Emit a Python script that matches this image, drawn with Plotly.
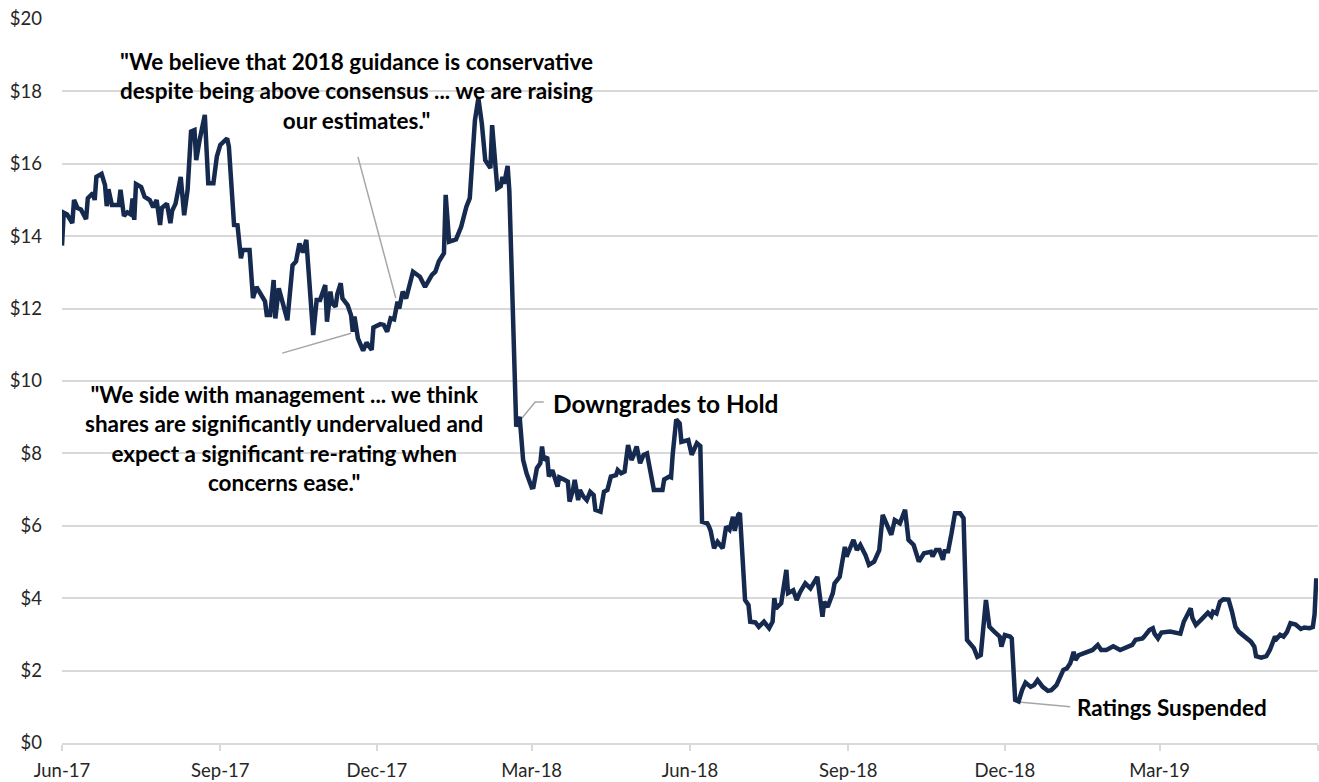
import plotly.graph_objects as go

dates = [
    "2017-06-01", "2017-06-02", "2017-06-04", "2017-06-07", "2017-06-08", "2017-06-10", "2017-06-12",
    "2017-06-15", "2017-06-16", "2017-06-19", "2017-06-20", "2017-06-21", "2017-06-24", "2017-06-26",
    "2017-06-27", "2017-06-28", "2017-06-30", "2017-07-04", "2017-07-05", "2017-07-07", "2017-07-09",
    "2017-07-11", "2017-07-12", "2017-07-13", "2017-07-14", "2017-07-17", "2017-07-19", "2017-07-22",
    "2017-07-24", "2017-07-26", "2017-07-28", "2017-07-29", "2017-08-01", "2017-08-03", "2017-08-04",
    "2017-08-06", "2017-08-09", "2017-08-11", "2017-08-13", "2017-08-15", "2017-08-17", "2017-08-18",
    "2017-08-20", "2017-08-23", "2017-08-25", "2017-08-28", "2017-08-30", "2017-09-01", "2017-09-05",
    "2017-09-06", "2017-09-09", "2017-09-11", "2017-09-13", "2017-09-14", "2017-09-18", "2017-09-20",
    "2017-09-22", "2017-09-25", "2017-09-27", "2017-09-28", "2017-09-30", "2017-10-02", "2017-10-03",
    "2017-10-05", "2017-10-08", "2017-10-10", "2017-10-13", "2017-10-15", "2017-10-17", "2017-10-19",
    "2017-10-21", "2017-10-25", "2017-10-27", "2017-10-29", "2017-11-01", "2017-11-02", "2017-11-04",
    "2017-11-05", "2017-11-07", "2017-11-08", "2017-11-10", "2017-11-11", "2017-11-14", "2017-11-16",
    "2017-11-17", "2017-11-18", "2017-11-20", "2017-11-23", "2017-11-25", "2017-11-28", "2017-11-29",
    "2017-12-03", "2017-12-05", "2017-12-07", "2017-12-09", "2017-12-11", "2017-12-13", "2017-12-14",
    "2017-12-16", "2017-12-18", "2017-12-22", "2017-12-26", "2017-12-29", "2018-01-02", "2018-01-04",
    "2018-01-06", "2018-01-09", "2018-01-10", "2018-01-12", "2018-01-16", "2018-01-19", "2018-01-22",
    "2018-01-24", "2018-01-27", "2018-01-29", "2018-01-31", "2018-02-02", "2018-02-05", "2018-02-06",
    "2018-02-08", "2018-02-09", "2018-02-11", "2018-02-12", "2018-02-13", "2018-02-15", "2018-02-16",
    "2018-02-20", "2018-02-22", "2018-02-24", "2018-02-26", "2018-03-01", "2018-03-02", "2018-03-04",
    "2018-03-06", "2018-03-07", "2018-03-08", "2018-03-10", "2018-03-11", "2018-03-13", "2018-03-16",
    "2018-03-17", "2018-03-20", "2018-03-22", "2018-03-23", "2018-03-25", "2018-03-26", "2018-03-28",
    "2018-03-29", "2018-03-31", "2018-04-02", "2018-04-04", "2018-04-06", "2018-04-07", "2018-04-10",
    "2018-04-12", "2018-04-14", "2018-04-16", "2018-04-19", "2018-04-20", "2018-04-22", "2018-04-24",
    "2018-04-26", "2018-04-28", "2018-04-29", "2018-05-01", "2018-05-03", "2018-05-05", "2018-05-07",
    "2018-05-09", "2018-05-11", "2018-05-16", "2018-05-17", "2018-05-20", "2018-05-21", "2018-05-22",
    "2018-05-24", "2018-05-26", "2018-05-27", "2018-05-31", "2018-06-02", "2018-06-05", "2018-06-07",
    "2018-06-08", "2018-06-11", "2018-06-12", "2018-06-13", "2018-06-15", "2018-06-17", "2018-06-20",
    "2018-06-22", "2018-06-24", "2018-06-26", "2018-06-27", "2018-06-29", "2018-06-30", "2018-07-01",
    "2018-07-03", "2018-07-05", "2018-07-06", "2018-07-09", "2018-07-11", "2018-07-14", "2018-07-17",
    "2018-07-19", "2018-07-20", "2018-07-21", "2018-07-24", "2018-07-27", "2018-07-28", "2018-07-31",
    "2018-08-02", "2018-08-04", "2018-08-07", "2018-08-10", "2018-08-12", "2018-08-14", "2018-08-17",
    "2018-08-18", "2018-08-20", "2018-08-23", "2018-08-24", "2018-08-27", "2018-08-30", "2018-08-31",
    "2018-09-02", "2018-09-04", "2018-09-06", "2018-09-08", "2018-09-11", "2018-09-13", "2018-09-16",
    "2018-09-19", "2018-09-21", "2018-09-23", "2018-09-26", "2018-09-28", "2018-10-01", "2018-10-04",
    "2018-10-06", "2018-10-09", "2018-10-12", "2018-10-15", "2018-10-19", "2018-10-20", "2018-10-22",
    "2018-10-24", "2018-10-26", "2018-10-27", "2018-10-29", "2018-10-31", "2018-11-02", "2018-11-05",
    "2018-11-07", "2018-11-09", "2018-11-12", "2018-11-13", "2018-11-15", "2018-11-17", "2018-11-20",
    "2018-11-22", "2018-11-25", "2018-11-28", "2018-11-29", "2018-12-01", "2018-12-04", "2018-12-05",
    "2018-12-07", "2018-12-09", "2018-12-11", "2018-12-13", "2018-12-16", "2018-12-18", "2018-12-20",
    "2018-12-23", "2018-12-26", "2018-12-28", "2018-12-31", "2019-01-02", "2019-01-04", "2019-01-06",
    "2019-01-08", "2019-01-10", "2019-01-11", "2019-01-13", "2019-01-16", "2019-01-19", "2019-01-21",
    "2019-01-24", "2019-01-26", "2019-01-29", "2019-02-02", "2019-02-06", "2019-02-10", "2019-02-13",
    "2019-02-15", "2019-02-19", "2019-02-20", "2019-02-23", "2019-02-25", "2019-02-26", "2019-02-28",
    "2019-03-02", "2019-03-07", "2019-03-10", "2019-03-13", "2019-03-15", "2019-03-17", "2019-03-19",
    "2019-03-20", "2019-03-22", "2019-03-25", "2019-03-27", "2019-03-29", "2019-03-31", "2019-04-01",
    "2019-04-03", "2019-04-05", "2019-04-07", "2019-04-10", "2019-04-12", "2019-04-14", "2019-04-16",
    "2019-04-18", "2019-04-20", "2019-04-23", "2019-04-25", "2019-04-26", "2019-04-29", "2019-05-02",
    "2019-05-04", "2019-05-07", "2019-05-08", "2019-05-10", "2019-05-12", "2019-05-14", "2019-05-16",
    "2019-05-19", "2019-05-22", "2019-05-24", "2019-05-27", "2019-05-29", "2019-05-30", "2019-05-31",
]

prices = [
    13.74, 14.65, 14.60, 14.36, 15.00, 14.78, 14.74,
    14.47, 15.05, 15.19, 15.00, 15.64, 15.72, 15.41,
    14.83, 15.30, 14.86, 14.86, 15.28, 14.56, 14.66,
    14.60, 15.04, 14.45, 15.44, 15.36, 15.09, 15.00,
    14.80, 15.00, 14.31, 14.78, 14.90, 14.36, 14.70,
    14.90, 15.64, 14.58, 15.28, 16.89, 16.93, 16.10,
    16.66, 17.35, 15.46, 15.46, 16.20, 16.52, 16.70,
    16.47, 14.31, 14.30, 13.39, 13.62, 13.62, 12.29,
    12.60, 12.33, 12.20, 11.82, 11.82, 12.79, 11.73,
    12.56, 12.05, 11.68, 13.20, 13.30, 13.80, 13.55,
    13.90, 11.27, 12.24, 12.24, 12.65, 11.64, 12.47,
    12.15, 12.05, 12.40, 12.70, 12.28, 12.10, 11.82,
    11.36, 11.78, 11.18, 10.84, 11.06, 10.86, 11.48,
    11.57, 11.55, 11.36, 11.73, 11.70, 12.19, 12.00,
    12.47, 12.28, 13.02, 12.88, 12.60, 12.93, 13.02,
    13.30, 13.53, 15.14, 13.85, 13.91, 14.26, 14.81,
    15.05, 17.20, 17.81, 17.12, 16.10, 15.88, 17.07,
    15.83, 15.32, 15.38, 15.64, 15.45, 15.94, 15.25,
    8.74, 9.01, 7.82, 7.45, 7.06, 7.07, 7.59,
    7.73, 8.19, 7.82, 7.90, 7.36, 7.54, 7.08,
    7.34, 7.27, 7.22, 6.67, 6.99, 7.27, 6.71,
    6.99, 6.81, 6.71, 6.94, 6.85, 6.44, 6.39,
    6.94, 6.99, 7.36, 7.40, 7.54, 7.45, 7.50,
    8.23, 7.82, 7.92, 8.19, 7.73, 7.96, 8.00,
    7.45, 6.99, 6.99, 7.28, 7.36, 7.34, 8.00,
    8.94, 8.83, 8.32, 8.37, 7.96, 8.28, 8.20,
    6.11, 6.07, 5.98, 5.86, 5.38, 5.56, 5.38,
    5.98, 5.89, 6.25, 5.86, 6.30, 6.35, 5.33,
    3.95, 3.81, 3.35, 3.33, 3.21, 3.35, 3.17,
    3.35, 4.00, 3.72, 3.86, 4.78, 4.14, 4.22,
    3.95, 4.17, 4.41, 4.27, 4.46, 4.59, 3.49,
    3.90, 3.76, 4.14, 4.41, 4.59, 5.42, 5.15,
    5.38, 5.61, 5.33, 5.47, 5.19, 4.92, 5.01,
    5.33, 6.30, 6.07, 5.75, 6.16, 6.07, 6.44,
    5.61, 5.47, 5.01, 5.24, 5.28, 5.15, 5.33,
    5.33, 5.06, 5.30, 5.30, 5.79, 6.35, 6.35,
    6.21, 2.85, 2.71, 2.62, 2.38, 2.43, 3.95,
    3.21, 3.07, 2.94, 2.66, 2.98, 2.94, 2.89,
    1.19, 1.15, 1.46, 1.67, 1.55, 1.60, 1.74,
    1.55, 1.44, 1.46, 1.60, 1.81, 2.02, 2.06,
    2.20, 2.52, 2.29, 2.43, 2.48, 2.52, 2.57,
    2.71, 2.57, 2.57, 2.67, 2.57, 2.66, 2.71,
    2.85, 2.89, 2.94, 3.12, 3.17, 3.02, 2.89,
    3.05, 3.08, 3.04, 3.02, 3.35, 3.54, 3.72,
    3.45, 3.26, 3.40, 3.50, 3.60, 3.50, 3.63,
    3.58, 3.90, 3.97, 3.96, 3.63, 3.21, 3.07,
    3.00, 2.93, 2.80, 2.66, 2.40, 2.36, 2.40,
    2.57, 2.94, 2.88, 2.99, 2.94, 3.07, 3.31,
    3.27, 3.15, 3.19, 3.17, 3.20, 3.55, 4.55,
]

tick_dates = ["2017-06-01", "2017-09-01", "2017-12-01", "2018-03-01", "2018-06-01",
              "2018-09-01", "2018-12-01", "2019-03-01", "2019-06-01"]
tick_labels = ["Jun-17", "Sep-17", "Dec-17", "Mar-18", "Jun-18",
               "Sep-18", "Dec-18", "Mar-19", ""]

y_ticks = [0, 2, 4, 6, 8, 10, 12, 14, 16, 18, 20]
y_labels = ["$" + str(v) for v in y_ticks]

notes = [
    {"text": "\"We believe that 2018 guidance is conservative<br>despite being above consensus ... we are raising<br>our estimates.\"",
     "x": "2017-11-19", "y": 18.0, "xanchor": "center", "size": 22.5},
    {"text": "\"We side with management ... we think<br>shares are significantly undervalued and<br>expect a significant re-rating when<br>concerns ease.\"",
     "x": "2017-10-08", "y": 8.4, "xanchor": "center", "size": 22.5},
    {"text": "Downgrades to Hold", "x": "2018-03-12", "y": 9.38, "xanchor": "left", "size": 24.5},
    {"text": "Ratings Suspended", "x": "2019-01-11", "y": 0.98, "xanchor": "left", "size": 22.5},
]

leaders = [
    (["2017-11-20", "2017-12-12"], [16.19, 12.29]),
    (["2017-10-07", "2017-11-16"], [10.77, 11.32]),
    (["2018-02-21", "2018-03-03", "2018-03-08"], [8.84, 9.42, 9.42]),
    (["2018-12-09", "2019-01-08"], [1.13, 1.00]),
]

FONT = "Lato, 'Open Sans', sans-serif"

fig = go.Figure()

for lx, ly in leaders:
    fig.add_trace(go.Scatter(x=lx, y=ly, mode="lines",
                             line=dict(color="#a6a6a6", width=1.5),
                             hoverinfo="skip", showlegend=False))

fig.add_trace(go.Scatter(x=dates, y=prices, mode="lines",
                         line=dict(color="#152a4e", width=4.5),
                         showlegend=False))

for n in notes:
    fig.add_annotation(x=n["x"], y=n["y"], xref="x", yref="y", text=n["text"],
                       showarrow=False, xanchor=n["xanchor"], yanchor="middle",
                       align="center",
                       font=dict(family=FONT, size=n["size"], color="#000000", weight="bold"))

fig.update_layout(
    width=1319, height=782,
    margin=dict(l=62, r=1, t=19, b=39),
    paper_bgcolor="white", plot_bgcolor="white",
    font=dict(family=FONT, size=18.5, color="#262626"),
    xaxis=dict(type="date", range=["2017-06-01", "2019-06-01"],
               tickvals=tick_dates, ticktext=tick_labels,
               showgrid=False, showline=True, linecolor="#d9d9d9", linewidth=1.5,
               ticks="outside", ticklen=6, tickcolor="#d9d9d9", tickwidth=1.5,
               tickfont=dict(size=18.5), zeroline=False, ticklabelstandoff=4),
    yaxis=dict(range=[0, 20], tickvals=y_ticks, ticktext=y_labels,
               showgrid=True, gridcolor="#d9d9d9", gridwidth=1.5,
               zeroline=False, showline=False, ticks="", ticklabelstandoff=19,
               tickfont=dict(size=18.5)),
)

fig.write_html("out.html")
